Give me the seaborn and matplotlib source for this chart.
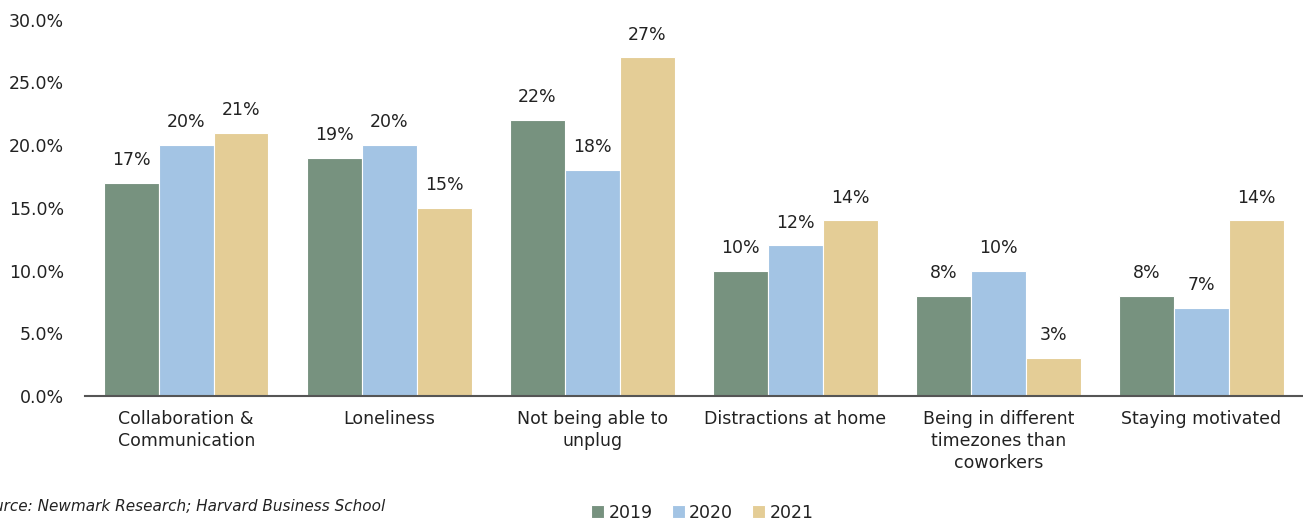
import matplotlib
matplotlib.use("Agg")
import matplotlib.pyplot as plt
from matplotlib.ticker import PercentFormatter
import seaborn as sns
import pandas as pd

categories = [
    "Collaboration &\nCommunication",
    "Loneliness",
    "Not being able to\nunplug",
    "Distractions at home",
    "Being in different\ntimezones than\ncoworkers",
    "Staying motivated",
]
years = ["2019", "2020", "2021"]
values_2019 = [17, 19, 22, 10, 8, 8]
values_2020 = [20, 20, 18, 12, 10, 7]
values_2021 = [21, 15, 27, 14, 3, 14]
y_ticks = [0, 5, 10, 15, 20, 25, 30]

palette = ["#77927F", "#A3C4E4", "#E4CD96"]

df = pd.DataFrame({
    "category": categories * 3,
    "year": [y for y in years for _ in categories],
    "value": values_2019 + values_2020 + values_2021,
})

sns.set_theme(style="white")
plt.rcParams["font.family"] = ["DejaVu Sans"]
text_color = "#222222"
fs = 12.5

fig = plt.figure(figsize=(13.03, 5.21), dpi=100)
ax = fig.add_axes([0.065, 0.24, 0.935, 0.722])

sns.barplot(data=df, x="category", y="value", hue="year", order=categories,
            hue_order=years, palette=palette, width=0.81, saturation=1,
            edgecolor="white", linewidth=0.8, ax=ax)

for container in ax.containers:
    ax.bar_label(container, labels=[f"{v:.0f}%" for v in container.datavalues],
                 padding=10, fontsize=fs, color=text_color)

ax.set_ylim(0, 30)
ax.set_yticks(y_ticks)
ax.yaxis.set_major_formatter(PercentFormatter(xmax=100, decimals=1))
ax.set_xlim(-0.5, len(categories) - 0.5)
ax.set_xlabel("")
ax.set_ylabel("")
ax.tick_params(axis="y", length=0, pad=15, labelsize=fs, labelcolor=text_color)
ax.tick_params(axis="x", length=0, pad=10, labelsize=fs, labelcolor=text_color)
for label in ax.get_xticklabels():
    label.set_linespacing(1.3)

for side in ["top", "right", "left"]:
    ax.spines[side].set_visible(False)
ax.spines["bottom"].set_color("#555555")
ax.spines["bottom"].set_linewidth(1.5)
ax.grid(False)

ax.legend(loc="center", bbox_to_anchor=(0.539, 0.016), bbox_transform=fig.transFigure,
          ncol=3, frameon=False, fontsize=fs, handlelength=0.75, handleheight=0.75,
          handletextpad=0.25, columnspacing=1.1, labelcolor=text_color)

fig.text(0.2955, 0.028, "Source: Newmark Research; Harvard Business School",
         fontsize=11, style="italic", color=text_color, ha="right", va="center")

fig.savefig("out.png", dpi=100)
